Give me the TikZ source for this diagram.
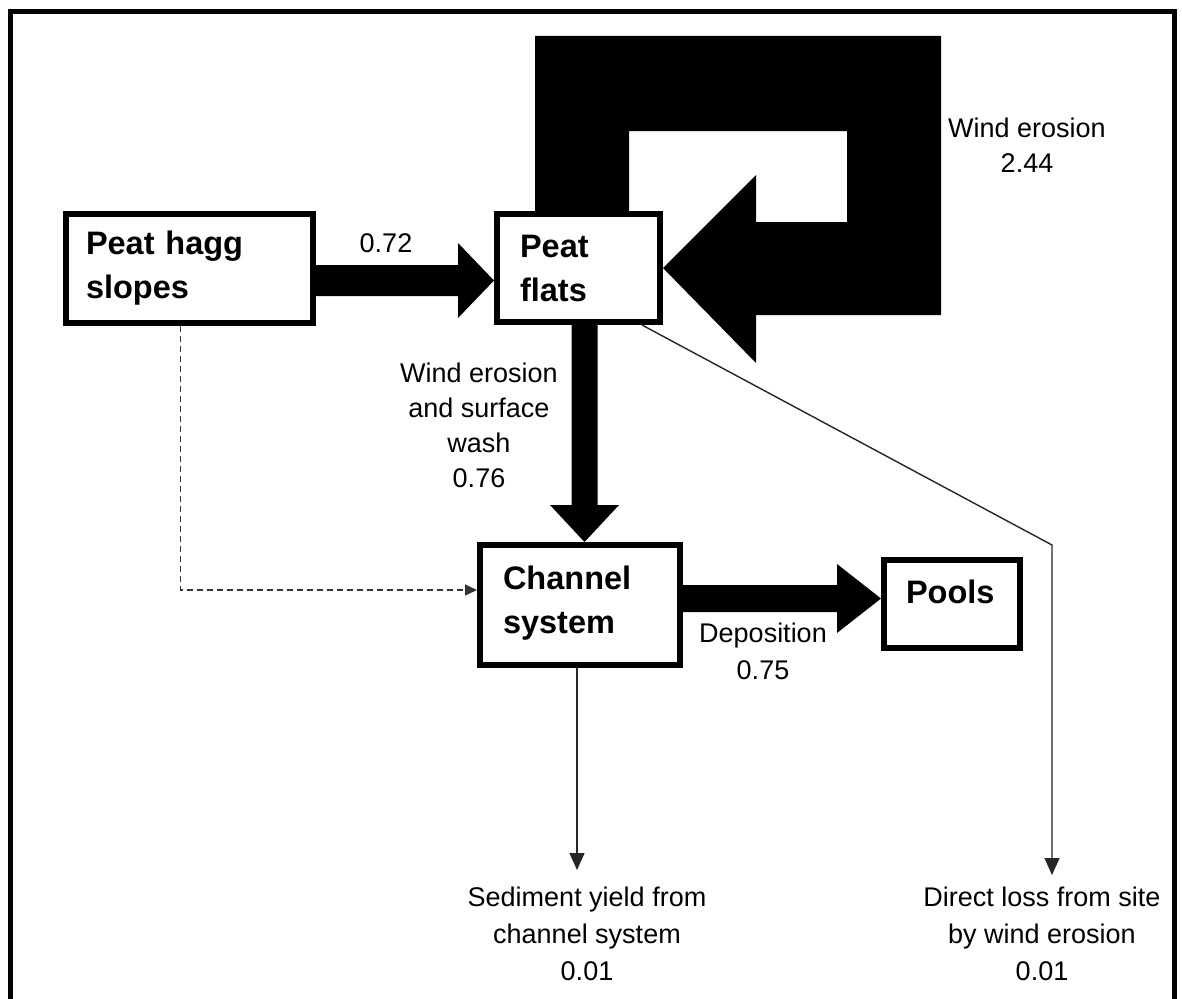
\documentclass[tikz,border=0pt]{standalone}
\usepackage{fontspec}
\setmainfont{Liberation Sans}
\usetikzlibrary{calc,arrows.meta}
\begin{document}
\begin{tikzpicture}[x=1pt,y=-1pt,
  box/.style={draw, line width=6pt, rectangle, outer sep=3pt, inner ysep=0pt, align=left,
    font=\bfseries\fontsize{32.5}{44}\selectfont},
  lbl/.style={align=center, inner sep=0pt, anchor=north},
  lblfont/.style={font=\fontsize{27}{#1}\selectfont},
  thinarrow/.style={line width=1.4pt, draw=black!85, -{Triangle[length=17pt,width=15pt]}},
  dashedarrow/.style={line width=1.3pt, draw=black!80, dash pattern=on 6pt off 4pt, -{Triangle[length=12pt,width=11pt]}},
]
\useasboundingbox (0,0) rectangle (1182,998);
\fill[white] (0,0) rectangle (1182,998);
% outer frame
\draw[line width=5pt, line join=miter] (10,1010) -- (10,12) -- (1174.5,12) -- (1174.5,1010);

% boxes
\node[box, minimum width=247pt, minimum height=109pt, inner xsep=20pt, text width=207pt] (hagg) at (189.5,268.5) {Peat hagg\\slopes};
\node[box, minimum width=163pt, minimum height=108pt, inner xsep=23pt, text width=117pt] (flats) at (578.5,268) {Peat\\flats};
\node[box, minimum width=200pt, minimum height=120pt, inner xsep=23pt, text width=154pt] (channel) at (580,605) {\raisebox{2pt}[\height][\depth]{Channel}\\\raisebox{2pt}[\height][\depth]{system}};
\node[box, minimum width=136pt, minimum height=88pt, inner xsep=22pt, text width=92pt] (pools) at (952,604) {\raisebox{12pt}[\height][\depth]{Pools}};

% thick arrow: hagg -> flats
\coordinate (a1) at ([yshift=-12pt]hagg.east);
\coordinate (b1) at (a1 -| flats.west);
\fill ($(a1)+(0,-15.5)$) -- ($(b1)+(-36,-15.5)$) -- ($(b1)+(-36,-37.5)$) -- (b1)
  -- ($(b1)+(-36,37.5)$) -- ($(b1)+(-36,15.5)$) -- ($(a1)+(0,15.5)$) -- cycle;

% thick arrow: flats -> channel
\coordinate (a2) at ([xshift=6pt]flats.south);
\coordinate (b2) at (a2 |- channel.north);
\fill ($(a2)+(-13,0)$) -- ($(b2)+(-13,-37)$) -- ($(b2)+(-34.5,-37)$) -- (b2)
  -- ($(b2)+(34.5,-37)$) -- ($(b2)+(13,-37)$) -- ($(a2)+(13,0)$) -- cycle;

% thick arrow: channel -> pools
\coordinate (a3) at ([yshift=6.5pt]channel.east);
\coordinate (b3) at (a3 -| pools.west);
\fill ($(a3)+(0,-13.5)$) -- ($(b3)+(-44,-13.5)$) -- ($(b3)+(-44,-34.5)$) -- (b3)
  -- ($(b3)+(-44,34.5)$) -- ($(b3)+(-44,13.5)$) -- ($(a3)+(0,13.5)$) -- cycle;

% wind erosion loop onto peat flats
\fill (535,211) -- (535,36) -- (941,36) -- (941,315) -- (756,315) -- (756,363)
  -- (flats.east) -- (756,175) -- (756,222) -- (847,222) -- (847,131) -- (629,131)
  -- (629,211) -- cycle;

% dashed connector
\draw[dashedarrow] ([xshift=-9pt]hagg.south) |- ([yshift=15pt]channel.west);

% thin connectors
\coordinate (sedend) at (577,870);
\coordinate (bend) at (1052,545);
\coordinate (dirend) at (1052,875);
\draw[thinarrow] ([xshift=-3pt]channel.south) -- (sedend);
\draw[thinarrow] ([xshift=-21pt]flats.south east) -- (bend) -- (dirend);

% labels
\node[lbl, lblfont=35] (l072) at (386,233.5) {0.72};
\node[lbl, lblfont=35] (lwind) at (1027,118) {Wind erosion\\2.44};
\node[lbl, lblfont=35] (lwash) at (479,363) {Wind erosion\\and surface\\wash\\0.76};
\node[lbl, lblfont=37] (ldep) at (763,623) {Deposition\\0.75};
\node[lbl, lblfont=37] (lsed) at (587,887) {Sediment yield from\\channel system\\0.01};
\node[lbl, lblfont=37] (ldir) at (1042,887) {Direct loss from site\\by wind erosion\\0.01};
\end{tikzpicture}
\end{document}
